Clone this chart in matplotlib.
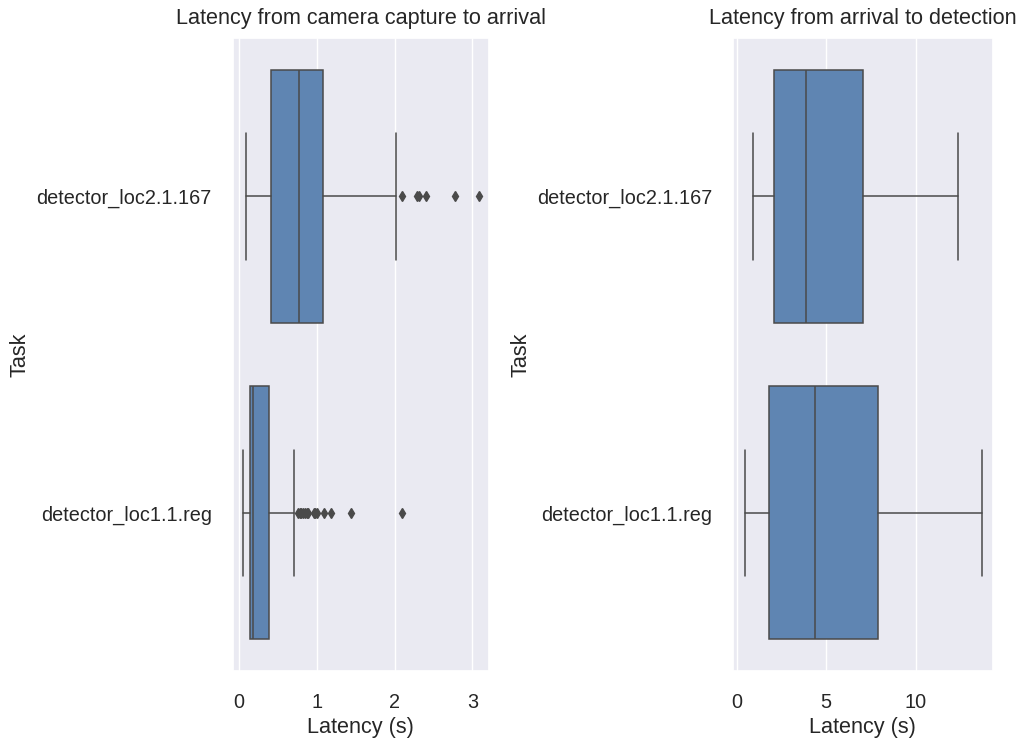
import numpy as np
import matplotlib.pyplot as plt
import seaborn as sns

sns.set_theme(style="darkgrid", font_scale=1.3)
plt.rcParams['font.family'] = ['Liberation Sans', 'DejaVu Sans']
plt.rcParams['xtick.major.pad'] = 9.5
plt.rcParams['ytick.major.pad'] = 9.0

tasks = ['detector_loc2.1.167', 'detector_loc1.1.reg']

# Latency from camera capture to arrival (s): whislo, q1, med, q3, whishi
arrival_stats = [
    [0.086, 0.415, 0.775, 1.08, 2.014],
    [0.051, 0.150, 0.184, 0.394, 0.707],
]
arrival_fliers = [
    [2.10, 2.29, 2.31, 2.40, 2.78, 3.08],
    [0.76, 0.78, 0.80, 0.82, 0.85, 0.87, 0.89, 0.96, 0.98, 1.00,
     1.09, 1.19, 1.44, 2.09],
]

# Latency from arrival to detection (s)
detection_stats = [
    [0.90, 2.11, 3.88, 7.07, 12.37],
    [0.49, 1.81, 4.37, 7.87, 13.69],
]
detection_fliers = [[], []]

box_color = '#5f85b2'
line_color = '#4a4a4a'


def make_stats(stats, fliers):
    out = []
    for s, f in zip(stats, fliers):
        out.append(dict(whislo=s[0], q1=s[1], med=s[2], q3=s[3],
                        whishi=s[4], fliers=f))
    return out


fig = plt.figure(figsize=(10.21, 7.4), dpi=100)
ax1 = fig.add_axes([232.5 / 1021, 1 - 671 / 740, 256.8 / 1021, 632.7 / 740])
ax2 = fig.add_axes([733 / 1021, 1 - 671 / 740, 259.7 / 1021, 632.7 / 740])

panels = [
    (ax1, arrival_stats, arrival_fliers, 'Latency from camera capture to arrival', (-0.081, 3.217)),
    (ax2, detection_stats, detection_fliers, 'Latency from arrival to detection', (-0.2, 14.29)),
]

for ax, stats, fliers, title, xlim in panels:
    ax.bxp(make_stats(stats, fliers), positions=[0, 1], widths=0.8,
           orientation='horizontal', patch_artist=True,
           boxprops=dict(facecolor=box_color, edgecolor=line_color, linewidth=1.1),
           medianprops=dict(color=line_color, linewidth=1.1),
           whiskerprops=dict(color=line_color, linewidth=1.1),
           capprops=dict(color=line_color, linewidth=1.1),
           flierprops=dict(marker='d', markerfacecolor=line_color,
                           markeredgecolor=line_color, markersize=5))
    ax.set_ylim(1.5, -0.5)
    ax.set_xlim(*xlim)
    ax.set_yticks([0, 1])
    ax.set_yticklabels(tasks)
    ax.grid(axis='y', visible=False)
    ax.set_title(title, pad=10)
    ax.set_xlabel('Latency (s)')
    ax.set_ylabel('Task')

ax1.set_xticks([0, 1, 2, 3])
ax2.set_xticks([0, 5, 10])

fig.savefig('out.png', dpi=100)
